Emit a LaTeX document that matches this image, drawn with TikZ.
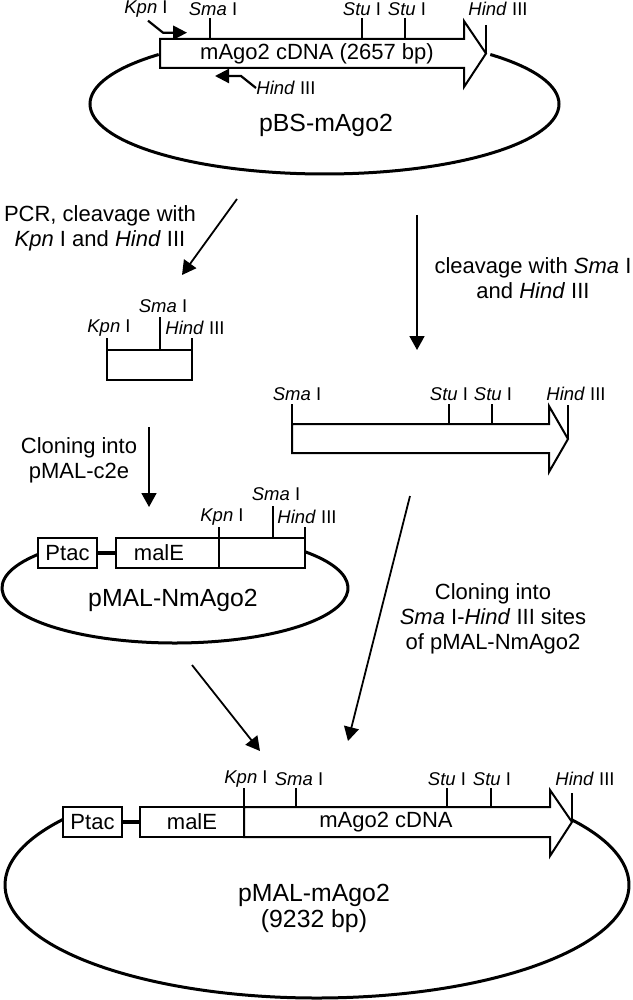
\documentclass[tikz,border=0pt]{standalone}
\usepackage{fontspec}
\setmainfont{Liberation Sans}
\usetikzlibrary{arrows.meta}

\newcommand{\enz}[2]{\textit{#1} #2}

\tikzstyle{plasmid}=[
    line width=1.5pt,
  ]
\tikzstyle{gene}=[
    draw,
    fill=white,
    line width=1pt,
  ]
\tikzstyle{gbox}=[
    draw,
    fill=white,
    line width=1pt,
    minimum height=15pt,
    inner sep=0pt,
    outer sep=0pt,
    font=\fontsize{11}{12.5}\selectfont,
  ]
\tikzstyle{sitetick}=[
    line width=0.9pt,
  ]
\tikzstyle{site}=[
    inner sep=0pt,
    font=\fontsize{9.25}{10}\selectfont,
  ]
\tikzstyle{gtxt}=[
    inner sep=0pt,
    align=center,
    font=\fontsize{11}{12.5}\selectfont,
  ]
\tikzstyle{pname}=[
    inner sep=0pt,
    align=center,
    font=\fontsize{12.4}{13}\selectfont,
  ]
\tikzstyle{flow}=[
    -{Triangle[length=7pt,width=7.5pt]},
    line width=0.9pt,
  ]
\tikzstyle{primer}=[
    -{Triangle[length=7pt,width=7pt]},
    line width=1.1pt,
  ]
\tikzstyle{link}=[
    line width=2pt,
  ]

\begin{document}
\begin{tikzpicture}[x=0.5pt, y=-0.5pt]
      \useasboundingbox (0,0) rectangle (632,1000);
      % pBS-mAgo2
      \coordinate (pbsc) at (324.5,104);
      \draw[plasmid] (pbsc) ++(135:117.25pt and 35pt)
        arc[start angle=135, end angle=405, x radius=117.25pt, y radius=35pt];
      \draw[gene] (160,39) -- (464,39) -- (464,21) -- (486,53.5) -- (464,87)
        -- (464,68) -- (160,68) -- cycle;
      \node[gtxt] (cdnaA) at (317,53.5) {mAgo2 cDNA (2657 bp)};
      \node[pname] (pbs) at (326,125) {pBS-mAgo2};
      \foreach \x in {210, 362, 405} {%
        \draw[sitetick] (\x,18) -- (\x,39);
      }
      \draw[sitetick] (486,25) -- (486,53.5);
      \foreach \n/\x/\en/\rn in {kpnA/146/Kpn/I, smaA/213/Sma/I, stuA/362/Stu/I,
          stuB/407/Stu/I, hindA/498/Hind/III} {%
        \node[site] (\n) at (\x,9) {\enz{\en}{\rn}};
      }
      \draw[primer] ([xshift=1pt,yshift=-1.5pt]kpnA.south) -- ++(15,12) -- ++(24,0);
      \node[site, anchor=west] (hindP) at (256,88) {\enz{Hind}{III}};
      \draw[primer] (hindP.west) -- ++(-15,-12) -- ++(-26,0);

      % cleavage steps
      \coordinate (pcrS) at (237,199);
      \coordinate (pcrE) at (182,275);
      \draw[flow] (pcrS) -- (pcrE);
      \node[gtxt] (pcr) at (100,228.5) {PCR, cleavage with\\\enz{Kpn}{I} and \enz{Hind}{III}};
      \coordinate (cutS) at (417,215);
      \coordinate (cutE) at (417,350);
      \draw[flow] (cutS) -- (cutE);
      \node[gtxt] (cut) at (533,278.5) {cleavage with \enz{Sma}{I}\\and \enz{Hind}{III}};

      % PCR fragment
      \node[gbox, minimum width=42.5pt] (frag) at (149.5,365) {};
      \draw[sitetick] (frag.north west) -- ++(0,-12);
      \draw[sitetick] (160,350) -- (160,317);
      \draw[sitetick] (frag.north east) -- ++(0,-12);
      \foreach \n/\x/\y/\en/\rn in {kpnF/109/328/Kpn/I, smaF/163/306/Sma/I,
          hindF/195/328/Hind/III} {%
        \node[site] (\n) at (\x,\y) {\enz{\en}{\rn}};
      }

      % Sma I - Hind III fragment
      \draw[gene] (292,424) -- (549,424) -- (549,406) -- (568,439) -- (549,472)
        -- (549,453) -- (292,453) -- cycle;
      \foreach \x in {292, 449, 492} {%
        \draw[sitetick] (\x,404) -- (\x,424);
      }
      \draw[sitetick] (568,405) -- (568,439);
      \foreach \n/\x/\en/\rn in {smaR/297/Sma/I, stuR/449/Stu/I, stuS/493/Stu/I,
          hindR/576/Hind/III} {%
        \node[site] (\n) at (\x,394) {\enz{\en}{\rn}};
      }

      % pMAL-NmAgo2
      \coordinate (c2eS) at (149,427);
      \coordinate (c2eE) at (149,507);
      \draw[flow] (c2eS) -- (c2eE);
      \node[gtxt] (c2e) at (79,460) {Cloning into\\pMAL-c2e};
      \coordinate (nmc) at (175,588);
      \draw[plasmid] (nmc) ++(142.4:86.5pt and 27.5pt)
        arc[start angle=142.4, end angle=401.3, x radius=86.5pt, y radius=27.5pt];
      \node[gbox, minimum width=29.5pt] (ptacM) at (67.5,553) {Ptac};
      \node[gbox, minimum width=51.5pt] (maleM) at (167.5,553) {malE\hspace*{8.5pt}};
      \node[gbox, minimum width=43pt] (insM) at (262,553) {};
      \draw[link] (ptacM) -- (maleM);
      \draw[sitetick] (insM.north west) -- ++(0,-11);
      \draw[sitetick] (273,538) -- (273,506);
      \draw[sitetick] (insM.north east) -- ++(0,-11);
      \foreach \n/\x/\y/\en/\rn in {kpnM/222/517/Kpn/I, smaM/276/494/Sma/I,
          hindM/307/517/Hind/III} {%
        \node[site] (\n) at (\x,\y) {\enz{\en}{\rn}};
      }
      \node[pname] (nm) at (173,600) {pMAL-NmAgo2};

      % subcloning
      \coordinate (insS) at (410,496);
      \coordinate (insE) at (348,741);
      \draw[flow] (insS) -- (insE);
      \coordinate (nmS) at (192,665);
      \coordinate (nmE) at (260,751);
      \draw[flow] (nmS) -- (nmE);
      \node[gtxt] (sites) at (493,619)
        {Cloning into\\\enz{Sma}{I}-\enz{Hind}{III} sites\\of pMAL-NmAgo2};

      % pMAL-mAgo2
      \coordinate (mc) at (317,885);
      \draw[plasmid] (mc) ++(144.5:156pt and 56.5pt)
        arc[start angle=144.5, end angle=395.2, x radius=156pt, y radius=56.5pt];
      \node[gbox, minimum width=29.5pt] (ptacB) at (92.5,822) {Ptac};
      \node[gbox, minimum width=52pt] (maleB) at (192,822) {malE};
      \draw[link] (ptacB) -- (maleB);
      \draw[gene] (244,807) -- (550,807) -- (550,790) -- (572,822) -- (550,856)
        -- (550,837) -- (244,837) -- cycle;
      \node[gtxt] (cdnaB) at (386,822) {mAgo2 cDNA};
      \foreach \x in {244, 296, 447, 491} {%
        \draw[sitetick] (\x,788) -- (\x,807);
      }
      \draw[sitetick] (572,793) -- (572,822);
      \foreach \n/\x/\en/\rn in {kpnB/246/Kpn/I, smaB/299/Sma/I, stuC/447/Stu/I,
          stuD/492/Stu/I, hindB/585/Hind/III} {%
        \node[site] (\n) at (\x,779) {\enz{\en}{\rn}};
      }
      \node[pname] (pm) at (314,908) {pMAL-mAgo2\\(9232 bp)};
    \end{tikzpicture}
\end{document}
